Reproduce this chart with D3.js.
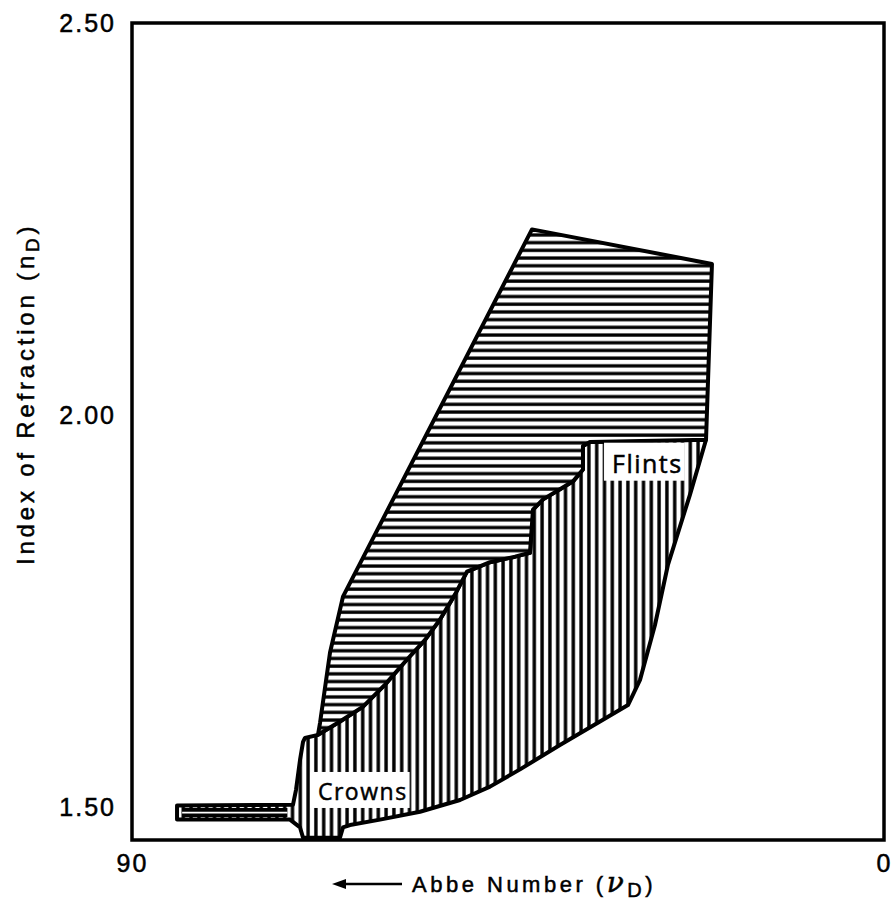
<!DOCTYPE html>
<html>
<head>
<meta charset="utf-8">
<script src="https://cdn.jsdelivr.net/npm/d3@7"></script>
<style>
    body { margin: 0; background: #fff; }
    svg { display: block; }
    text { font-family: "Liberation Sans", Arial, sans-serif; fill: #000; stroke: #000; stroke-width: 0.5px; }
</style>
</head>
<body>
<svg></svg>
<script>
let width = 896, height = 907

// Abbe number (nu_D) and index of refraction (n_D)

// border between the two hatched areas, from bottom left to top right
let boundary = [
    [67.74, 1.593], [65.11, 1.610], [62.35, 1.629], [59.72, 1.657], [57.09, 1.689],
    [54.93, 1.714], [53.14, 1.740], [51.34, 1.772], [49.91, 1.801], [47.15, 1.813],
    [44.16, 1.820], [42.37, 1.825], [42.01, 1.880], [40.81, 1.893], [38.78, 1.906],
    [37.22, 1.916], [36.03, 1.931], [36.03, 1.961], [35.19, 1.966], [21.30, 1.969]
]

// top edge of the horizontally hatched area, right to left
let upperEdge = [
    [20.59, 2.193], [42.13, 2.237], [64.75, 1.769], [66.30, 1.698], [67.50, 1.608]
]

// lower edge of the vertically hatched area, right side down and round to the left
let lowerEdge = [
    [23.22, 1.899], [25.85, 1.810], [27.41, 1.733], [29.20, 1.663], [30.64, 1.631],
    [33.99, 1.610], [38.78, 1.580], [43.56, 1.549], [47.15, 1.527], [50.74, 1.510],
    [55.53, 1.495], [60.32, 1.485], [63.91, 1.478], [64.75, 1.475], [65.11, 1.462],
    [69.53, 1.462], [69.89, 1.475], [71.09, 1.485], [84.61, 1.485], [84.61, 1.503],
    [70.73, 1.504], [70.37, 1.523], [69.89, 1.561], [69.53, 1.584], [69.30, 1.589]
]

// the thin low-index tail on the left
let tail = [[84.0, 1.494], [71.4, 1.494]]

let regionLabels = [
    {text: "Flints", abbe: 32.55, index: 1.927},
    {text: "Crowns", abbe: 67.74, index: 1.510}
]

let xTicks = [90, 0]
let yTicks = [1.50, 2.00, 2.50]

let svg = d3.select("svg").attr("width", width).attr("height", height)

let x = d3.scaleLinear().domain([90, 0]).range([132, 884])
let y = d3.scaleLinear().domain([1.459, 2.5]).range([840, 23])

let line = d3.line().x(d => x(d[0])).y(d => y(d[1]))

let defs = svg.append("defs")

let hPat = defs.append("pattern")
    .attr("id", "hatchH")
    .attr("patternUnits", "userSpaceOnUse")
    .attr("width", 12).attr("height", 7.7)
hPat.append("rect").attr("width", 12).attr("height", 7.7).attr("fill", "#fff")
hPat.append("rect").attr("y", 2.3).attr("width", 12).attr("height", 3.3).attr("fill", "#000")

let vPat = defs.append("pattern")
    .attr("id", "hatchV")
    .attr("patternUnits", "userSpaceOnUse")
    .attr("width", 7.8).attr("height", 12)
vPat.append("rect").attr("width", 7.8).attr("height", 12).attr("fill", "#fff")
vPat.append("rect").attr("x", 2.2).attr("width", 3.4).attr("height", 12).attr("fill", "#000")

let upperArea = boundary.concat(upperEdge)
let lowerArea = boundary.concat(lowerEdge)

svg.append("path")
    .attr("d", line(lowerArea) + "Z")
    .attr("fill", "url(#hatchV)")
    .attr("stroke", "#000")
    .attr("stroke-width", 4)
    .attr("stroke-linejoin", "round")

svg.append("path")
    .attr("d", line(upperArea) + "Z")
    .attr("fill", "url(#hatchH)")
    .attr("stroke", "#000")
    .attr("stroke-width", 4)
    .attr("stroke-linejoin", "round")

// tail is drawn nearly solid in the original
svg.append("path")
    .attr("d", line(tail))
    .attr("stroke", "#000")
    .attr("stroke-width", 9)
svg.append("path")
    .attr("d", line(tail))
    .attr("stroke", "#fff")
    .attr("stroke-width", 1.8)

// labels sit on white patches
let labelSizes = {"Flints": 25, "Crowns": 23}
regionLabels.forEach(l => {
    let t = svg.append("text")
        .attr("x", x(l.abbe))
        .attr("y", y(l.index))
        .style("font-family", "'Open Sans', sans-serif")
        .style("font-size", labelSizes[l.text] + "px")
        .style("letter-spacing", "1.5px")
        .text(l.text)
    let b = t.node().getBBox()
    svg.insert("rect", "text")
        .attr("x", b.x - 8).attr("y", b.y - 3)
        .attr("width", b.width + 10).attr("height", b.height + 4)
        .attr("fill", "#fff")
})

// frame
svg.append("rect")
    .attr("x", x(90)).attr("y", y(2.5))
    .attr("width", x(0) - x(90)).attr("height", y(1.459) - y(2.5))
    .attr("fill", "none")
    .attr("stroke", "#000")
    .attr("stroke-width", 3.5)

let yAxis = svg.append("g")
    .attr("transform", `translate(${x(90)},0)`)
    .call(d3.axisLeft(y).tickValues(yTicks).tickFormat(d3.format(".2f")).tickSize(0).tickPadding(16))
yAxis.select(".domain").remove()
yAxis.selectAll("text")
    .style("font-family", "'Liberation Sans', Arial, sans-serif")
    .style("font-size", "25px")
    .style("letter-spacing", "2px")
    .attr("fill", "#000")

let xAxis = svg.append("g")
    .attr("transform", `translate(0,${y(1.459)})`)
    .call(d3.axisBottom(x).tickValues(xTicks).tickFormat(d3.format("d")).tickSize(0).tickPadding(14))
xAxis.select(".domain").remove()
xAxis.selectAll("text")
    .style("font-family", "'Liberation Sans', Arial, sans-serif")
    .style("font-size", "25px")
    .style("letter-spacing", "2px")
    .attr("fill", "#000")

// axis titles
let xTitle = svg.append("text")
    .attr("x", 412).attr("y", 892)
    .style("font-size", "22px")
    .style("letter-spacing", "3.5px")
xTitle.append("tspan").text("Abbe Number (")
xTitle.append("tspan").style("font-size", "28px").style("font-style", "italic").style("font-family", "'DejaVu Serif', serif").text("ν")
xTitle.append("tspan").attr("dy", 5).style("font-size", "20px").text("D")
xTitle.append("tspan").attr("dy", -5).text(")")

svg.append("path")
    .attr("d", "M402,884H340")
    .attr("stroke", "#000").attr("stroke-width", 2.5)
svg.append("path")
    .attr("d", "M332,884L346,879L346,889Z")
    .attr("fill", "#000")

let yTitle = svg.append("text")
    .attr("transform", "translate(34,565) rotate(-90)")
    .style("font-size", "24px")
    .style("letter-spacing", "3.8px")
yTitle.append("tspan").text("Index of Refraction (n")
yTitle.append("tspan").attr("dy", 5).style("font-size", "19px").text("D")
yTitle.append("tspan").attr("dy", -5).text(")")
</script>
</body>
</html>
